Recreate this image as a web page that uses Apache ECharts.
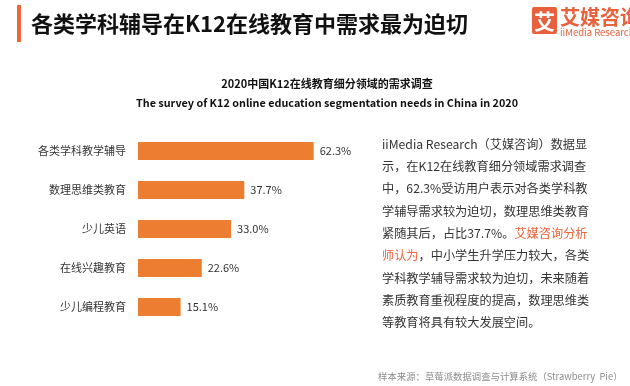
<!DOCTYPE html>
<html>
<head>
<meta charset="utf-8">
<script src="https://cdn.jsdelivr.net/npm/echarts@6/dist/echarts.min.js"></script>
<style>
html,body{margin:0;padding:0;background:#fff;}
#main{width:630px;height:386px;}
</style>
</head>
<body>
<div id="main"></div>
<script>
var categories = ['各类学科教学辅导', '数理思维类教育', '少儿英语', '在线兴趣教育', '少儿编程教育'];
var values = [62.3, 37.7, 33.0, 22.6, 15.1];

var pageTitle = '各类学科辅导在K12在线教育中需求最为迫切';
var chartTitleCn = '2020中国K12在线教育细分领域的需求调查';
var chartTitleEn = 'The survey of K12 online education segmentation needs in China in 2020';
var sourceText = '样本来源：草莓派数据调查与计算系统（Strawberry  Pie）';
var paragraphLines = [
  'iiMedia Research（艾媒咨询）数据显',
  '示，在K12在线教育细分领域需求调查',
  '中，62.3%受访用户表示对各类学科教',
  '学辅导需求较为迫切，数理思维类教育',
  '紧随其后，占比37.7%。{o|艾媒咨询分析}',
  '{o|师认为}，中小学生升学压力较大，各类',
  '学科教学辅导需求较为迫切，未来随着',
  '素质教育重视程度的提高，数理思维类',
  '等教育将具有较大发展空间。'
];

var FONT = '"Noto Sans CJK SC", "Noto Sans", sans-serif';
var chart = echarts.init(document.getElementById('main'), null, {renderer: 'canvas'});

chart.setOption({
  backgroundColor: '#ffffff',
  animation: false,
  textStyle: {fontFamily: FONT},
  grid: {left: 138, top: 131.5, width: 282, height: 195, containLabel: false},
  xAxis: {
    type: 'value', min: 0, max: 100, show: false
  },
  yAxis: {
    type: 'category', data: categories, inverse: true,
    axisLine: {show: false}, axisTick: {show: false}, splitLine: {show: false},
    axisLabel: {color: '#333', fontSize: 11, margin: 12, fontFamily: FONT}
  },
  series: [{
    type: 'bar',
    data: values,
    barWidth: 18,
    itemStyle: {color: '#ED7D31'},
    label: {
      show: true, position: 'right', distance: 6,
      color: '#333', fontSize: 11, fontFamily: FONT,
      formatter: function (p) { return p.value.toFixed(1) + '%'; }
    }
  }],
  graphic: [
    {type: 'rect', shape: {x: 17, y: 5, width: 4, height: 37}, style: {fill: '#F0643C'}},
    {type: 'text', x: 31, y: 24, style: {text: pageTitle, fontSize: 22, fontWeight: 'bold', fill: '#111', fontFamily: FONT, verticalAlign: 'middle', align: 'left'}},
    {type: 'rect', shape: {x: 532, y: 7, width: 25, height: 27, r: 2}, style: {fill: '#E8603C'}},
    {type: 'text', x: 544.5, y: 21, style: {text: '艾', fontSize: 21, fontWeight: 'bold', fill: '#fff', fontFamily: FONT, align: 'center', verticalAlign: 'middle'}},
    {type: 'text', x: 560, y: 17, style: {text: '艾媒咨询', fontSize: 20, fontWeight: 'bold', fill: '#E8603C', fontFamily: FONT, align: 'left', verticalAlign: 'middle'}},
    {type: 'text', x: 560, y: 32, style: {text: 'iiMedia Research', fontSize: 9.5, fill: '#E8603C', fontFamily: FONT, align: 'left', verticalAlign: 'middle'}},
    {type: 'text', x: 327, y: 84, style: {text: chartTitleCn, fontSize: 11, fontWeight: 'bold', fill: '#111', fontFamily: FONT, align: 'center', verticalAlign: 'middle'}},
    {type: 'text', x: 327, y: 103, style: {text: chartTitleEn, fontSize: 10.8, fontWeight: 'bold', fill: '#111', fontFamily: FONT, align: 'center', verticalAlign: 'middle'}},
    {type: 'text', x: 382, y: 133, style: {
      text: paragraphLines.join('\n'), fontSize: 12.2, lineHeight: 22.3, fill: '#333', fontFamily: FONT, align: 'left', verticalAlign: 'top',
      rich: {o: {fill: '#F0643C', fontSize: 12.2, lineHeight: 22.3, fontFamily: FONT}}
    }},
    {type: 'text', x: 378, y: 376, style: {text: sourceText, fontSize: 9.4, fill: '#8c8c8c', fontFamily: FONT, align: 'left', verticalAlign: 'middle'}}
  ]
});
</script>
</body>
</html>
